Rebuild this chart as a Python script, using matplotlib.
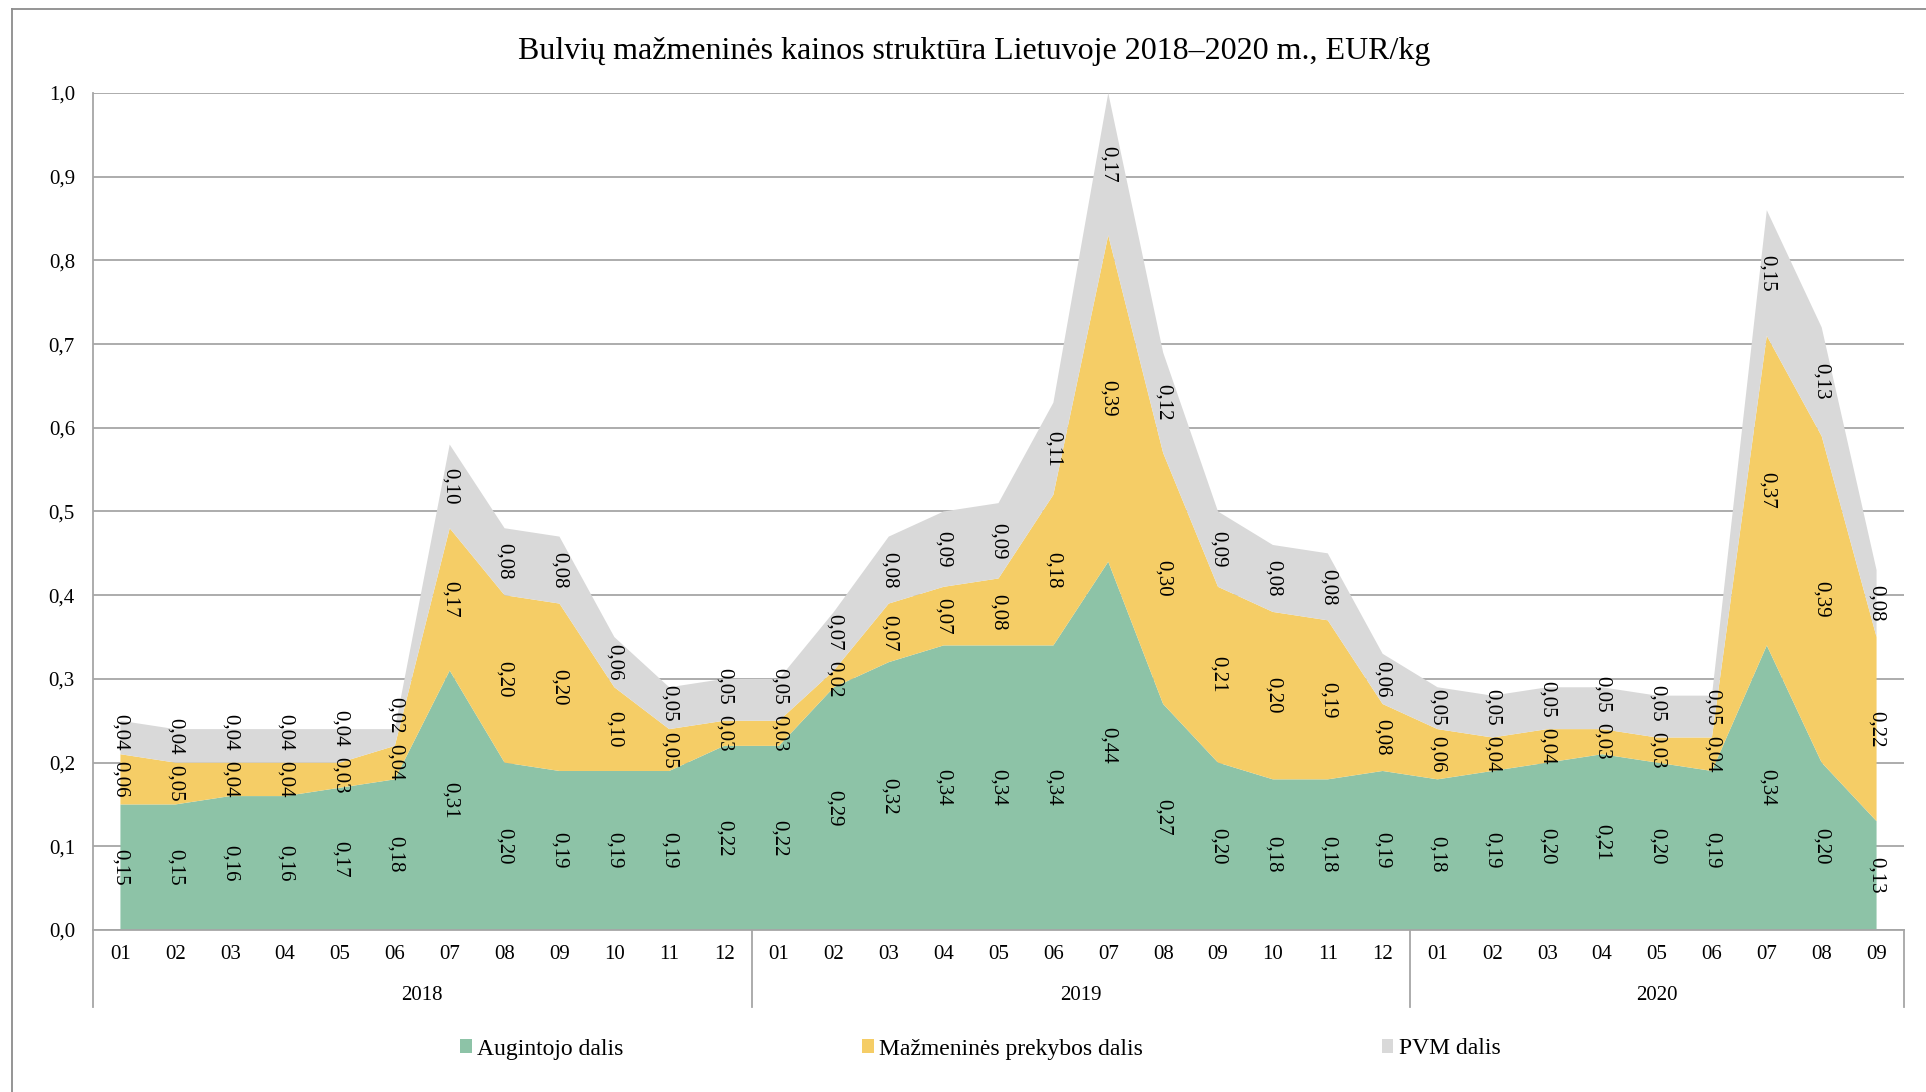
"""Bulvių mažmeninės kainos struktūra Lietuvoje 2018–2020 m. (stacked area)."""

import matplotlib
matplotlib.use("Agg")
import matplotlib.pyplot as plt
import matplotlib.transforms as mtransforms
import numpy as np

plt.rcParams["font.family"] = ["Liberation Serif", "DejaVu Serif"]

# ── Data (EUR/kg) ──
YEARS = ["2018", "2019", "2020"]
YEAR_LENGTHS = [12, 12, 9]
MONTHS = ["01", "02", "03", "04", "05", "06", "07", "08", "09", "10", "11", "12",
          "01", "02", "03", "04", "05", "06", "07", "08", "09", "10", "11", "12",
          "01", "02", "03", "04", "05", "06", "07", "08", "09"]

FARMER = [0.15, 0.15, 0.16, 0.16, 0.17, 0.18, 0.31, 0.20, 0.19, 0.19, 0.19, 0.22,
          0.22, 0.29, 0.32, 0.34, 0.34, 0.34, 0.44, 0.27, 0.20, 0.18, 0.18, 0.19,
          0.18, 0.19, 0.20, 0.21, 0.20, 0.19, 0.34, 0.20, 0.13]
RETAIL = [0.06, 0.05, 0.04, 0.04, 0.03, 0.04, 0.17, 0.20, 0.20, 0.10, 0.05, 0.03,
          0.03, 0.02, 0.07, 0.07, 0.08, 0.18, 0.39, 0.30, 0.21, 0.20, 0.19, 0.08,
          0.06, 0.04, 0.04, 0.03, 0.03, 0.04, 0.37, 0.39, 0.22]
VAT = [0.04, 0.04, 0.04, 0.04, 0.04, 0.02, 0.10, 0.08, 0.08, 0.06, 0.05, 0.05,
       0.05, 0.07, 0.08, 0.09, 0.09, 0.11, 0.17, 0.12, 0.09, 0.08, 0.08, 0.06,
       0.05, 0.05, 0.05, 0.05, 0.05, 0.05, 0.15, 0.13, 0.08]

SERIES_NAMES = ["Augintojo dalis", "Mažmeninės prekybos dalis", "PVM dalis"]
COLORS = ["#8DC3A7", "#F5CD66", "#D9D9D9"]
GRID = "#A6A6A6"
MIN_LABEL_SEP = 0.056  # rotated labels are ~0.04 tall in data units


def comma(v, fmt="{:.2f}"):
    return fmt.format(v).replace(".", ",")


def main():
    W, H = 1926, 1092
    fig = plt.figure(figsize=(W / 100, H / 100), dpi=100)
    # axes box in pixels: left 93, right 1904, top 93, bottom 930
    ax = fig.add_axes([93 / W, 1 - 930 / H, (1904 - 93) / W, (930 - 93) / H])

    x = np.arange(len(MONTHS))
    series = [np.array(FARMER), np.array(RETAIL), np.array(VAT)]
    polys = ax.stackplot(x, *series, colors=COLORS, labels=SERIES_NAMES, linewidth=0)

    # data labels in the middle of each band, nudged up when they would collide
    bottom = np.zeros(len(x))
    prev_pos = np.full(len(x), -1.0)
    for vals in series:
        pos = np.maximum(bottom + vals / 2, prev_pos + MIN_LABEL_SEP)
        for xi, yi, v in zip(x, pos, vals):
            ax.text(xi, yi, comma(v), rotation=270, ha="center", va="center",
                    fontsize=15, color="black")
        bottom = bottom + vals
        prev_pos = pos

    ax.set_xlim(-0.5, len(x) - 0.5)
    ax.set_ylim(0, 1.0)
    yt = np.arange(0, 1.01, 0.1)
    ax.set_yticks(yt)
    ax.set_yticklabels([comma(v, "{:.1f}") for v in yt], fontsize=15)
    ax.set_xticks(x)
    ax.set_xticklabels(MONTHS, fontsize=15)
    ax.tick_params(axis="y", length=0, pad=13)
    ax.tick_params(axis="x", length=0, pad=11)

    ax.yaxis.grid(True, color=GRID, linewidth=1.3)
    ax.set_axisbelow(True)
    for s in ("top", "right"):
        ax.spines[s].set_visible(False)
    for s in ("left", "bottom"):
        ax.spines[s].set_color(GRID)
        ax.spines[s].set_linewidth(1.3)

    # year groups under the month labels
    trans = mtransforms.blended_transform_factory(ax.transData, ax.transAxes)
    edges = np.concatenate([[0], np.cumsum(YEAR_LENGTHS)]) - 0.5
    for e in edges:
        ax.plot([e, e], [0, -0.092], color=GRID, lw=1.3, transform=trans, clip_on=False)
    for year, lo, hi in zip(YEARS, edges[:-1], edges[1:]):
        ax.text((lo + hi) / 2, -0.078, year, transform=trans, ha="center", va="center",
                fontsize=15)

    fig.text(0.506, 1 - 59 / H, "Bulvių mažmeninės kainos struktūra Lietuvoje 2018–2020 m., EUR/kg",
             ha="center", va="baseline", fontsize=23)

    fig.legend(polys, SERIES_NAMES, loc="center", bbox_to_anchor=(0.509, 1 - 1049 / H),
               ncol=3, frameon=False, fontsize=17, handlelength=0.5, handleheight=0.5,
               handletextpad=0.22, columnspacing=10.1)

    # chart-area border (left and top edges visible)
    bx, by = 12 / W, 1 - 9 / H
    fig.add_artist(plt.Line2D([bx, bx], [0, by], color="#8C8C8C", lw=1.3))
    fig.add_artist(plt.Line2D([bx, 1], [by, by], color="#8C8C8C", lw=1.3))

    fig.savefig("out.png", dpi=100)


if __name__ == "__main__":
    main()
